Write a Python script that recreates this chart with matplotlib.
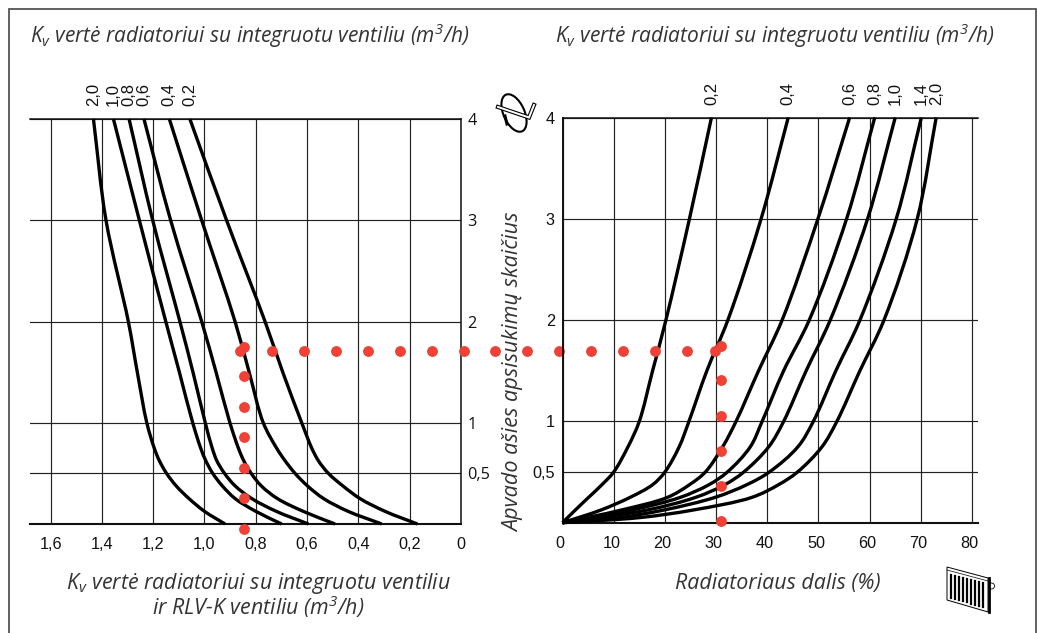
import matplotlib
matplotlib.use("Agg")
import matplotlib.pyplot as plt
from matplotlib.patches import Ellipse, Polygon, Circle, PathPatch
from matplotlib.path import Path
from matplotlib.transforms import ScaledTranslation
import math

plt.rcParams['font.family'] = ['Open Sans', 'DejaVu Sans']
plt.rcParams['mathtext.fontset'] = 'custom'
plt.rcParams['mathtext.rm'] = 'Open Sans:italic'
plt.rcParams['mathtext.it'] = 'Open Sans:italic'
plt.rcParams['mathtext.default'] = 'regular'

# ---- data ----
left_turns = [4, 3, 2, 1.5, 1, 0.75, 0.625, 0.5, 0.375, 0.25, 0.125, 0]
left_curves = {
    '2,0': [1.433, 1.384, 1.297, 1.262, 1.225, 1.196, 1.176, 1.148, 1.110, 1.060, 1.000, 0.920],
    '1,0': [1.355, 1.254, 1.151, 1.098, 1.046, 1.015, 0.995, 0.968, 0.930, 0.880, 0.800, 0.699],
    '0,8': [1.294, 1.202, 1.096, 1.045, 0.997, 0.970, 0.952, 0.922, 0.880, 0.815, 0.720, 0.595],
    '0,6': [1.236, 1.132, 1.011, 0.955, 0.901, 0.868, 0.847, 0.818, 0.778, 0.715, 0.615, 0.491],
    '0,4': [1.137, 1.011, 0.881, 0.826, 0.771, 0.719, 0.686, 0.647, 0.598, 0.535, 0.440, 0.309],
    '0,2': [1.057, 0.914, 0.764, 0.695, 0.621, 0.582, 0.556, 0.517, 0.460, 0.393, 0.296, 0.170],
}
right_turns = [4, 3, 2, 1.5, 1, 0.75, 0.5, 0.375, 0.25, 0.125, 0]
right_turns_fine = [4, 3, 2, 1.5, 1, 0.75, 0.5, 0.375, 0.25, 0.125, 0.05, 0]
right_curves = {
    '0,2': ([29.1, 24.8, 20.2, 17.6, 15.0, 12.8, 10.0, 7.7, 5.1, 2.5, 0], right_turns),
    '0,4': ([44.1, 38.8, 32.3, 28.2, 24.7, 22.8, 20.0, 17.6, 13.2, 7.5, 0], right_turns),
    '0,6': ([56.1, 49.9, 42.9, 38.3, 33.9, 31.3, 27.9, 24.8, 20.5, 11.5, 0], right_turns),
    '0,8': ([61.0, 55.5, 48.2, 43.2, 39.0, 36.7, 32.2, 28.6, 23.0, 13.5, 0], right_turns),
    '1,0': ([65.0, 59.6, 52.3, 47.6, 43.2, 40.3, 35.4, 31.7, 26.0, 16.5, 0], right_turns),
    '1,4': ([70.1, 65.2, 58.1, 53.4, 49.0, 46.0, 40.4, 36.0, 29.8, 19.8, 11.0, 0], right_turns_fine),
    '2,0': ([73.0, 69.3, 62.8, 58.1, 53.6, 50.7, 45.9, 42.2, 37.0, 25.5, 15.0, 0], right_turns_fine),
}
left_xticks = [1.6, 1.4, 1.2, 1.0, 0.8, 0.6, 0.4, 0.2, 0]
left_xlabels = ['1,6', '1,4', '1,2', '1,0', '0,8', '0,6', '0,4', '0,2', '0']
right_xticks = [0, 10, 20, 30, 40, 50, 60, 70, 80]
right_xlabels = ['0', '10', '20', '30', '40', '50', '60', '70', '80']
yticks = [0, 0.5, 1, 2, 3, 4]
ylabels = ['', '0,5', '1', '2', '3', '4']

# red guide dots
dot_row_left_kv = [0.862, 0.737, 0.612, 0.487, 0.363, 0.238, 0.113, -0.012, -0.133, -0.257, -0.382]
dot_row_left_turns = [1.709] * 11
dot_col_left_kv = [0.846] * 7
dot_col_left_turns = [1.751, 1.462, 1.158, 0.856, 0.556, 0.254, -0.046]
dot_row_right_pct = [5.6, 11.8, 18.1, 24.3, 29.8]
dot_row_right_turns = [1.693] * 5
dot_col_right_pct = [31.0] * 6
dot_col_right_turns = [1.746, 1.407, 1.058, 0.71, 0.365, 0.017]

title_text = r'K$_{v}$ vertė radiatoriui su integruotu ventiliu (m$^{3}$/h)'
bottom_left = r'K$_{v}$ vertė radiatoriui su integruotu ventiliu'
bottom_left2 = r'ir RLV-K ventiliu (m$^{3}$/h)'
bottom_right = 'Radiatoriaus dalis (%)'
ylabel_text = 'Apvado ašies apsisukimų skaičius'

# ---- layout ----
W, H = 1037, 633
fig = plt.figure(figsize=(W / 100, H / 100), dpi=100, facecolor='white')

def axes_px(x0, x1, ytop, ybot):
    return fig.add_axes([x0 / W, 1 - ybot / H, (x1 - x0) / W, (ybot - ytop) / H])

INK = '#111111'
TXT = '#333333'
tick_font = 'Liberation Sans'

def style(ax):
    for s in ax.spines.values():
        s.set_visible(False)
    ax.set_yticks(yticks, ylabels)
    ax.grid(True, color='#222222', lw=0.85)
    ax.set_axisbelow(True)
    ax.tick_params(length=0, labelsize=11.7, colors='#111111')
    for t in ax.get_xticklabels() + ax.get_yticklabels():
        t.set_fontfamily(tick_font)
    ax.patch.set_alpha(0)

def smooth_curve(ax, xs, ys, sx, sy):
    """Draw a line through the read points as a Catmull-Rom cubic path."""
    n = len(xs)
    d = [math.hypot((xs[i + 1] - xs[i]) * sx, (ys[i + 1] - ys[i]) * sy) ** 0.5 for i in range(n - 1)]
    mx, my = [0.0] * n, [0.0] * n
    for i in range(n):
        if i == 0:
            mx[i], my[i] = (xs[1] - xs[0]) / d[0], (ys[1] - ys[0]) / d[0]
        elif i == n - 1:
            mx[i], my[i] = (xs[i] - xs[i - 1]) / d[i - 1], (ys[i] - ys[i - 1]) / d[i - 1]
        else:
            a, b = d[i - 1], d[i]
            mx[i] = ((xs[i] - xs[i - 1]) / a * b + (xs[i + 1] - xs[i]) / b * a) / (a + b)
            my[i] = ((ys[i] - ys[i - 1]) / a * b + (ys[i + 1] - ys[i]) / b * a) / (a + b)
    verts, codes = [(xs[0], ys[0])], [Path.MOVETO]
    for i in range(n - 1):
        verts += [(xs[i] + mx[i] * d[i] / 3, ys[i] + my[i] * d[i] / 3),
                  (xs[i + 1] - mx[i + 1] * d[i] / 3, ys[i + 1] - my[i + 1] * d[i] / 3),
                  (xs[i + 1], ys[i + 1])]
        codes += [Path.CURVE4] * 3
    ax.add_patch(PathPatch(Path(verts, codes), fc='none', ec='black', lw=2.4,
                           capstyle='butt', joinstyle='round', clip_on=False, zorder=3))

axL = axes_px(30, 461, 119, 524)
axL.set_xlim(431 / 256.5, 0)
axL.set_ylim(0, 4)
axL.set_xticks(left_xticks, left_xlabels)
style(axL)
axL.yaxis.tick_right()
axL.tick_params(axis='y', pad=4.5, length=0)
axL.tick_params(axis='x', pad=9.5)
for s in ('right', 'top', 'bottom'):
    axL.spines[s].set_visible(True)
    axL.spines[s].set_color(INK)
    axL.spines[s].set_linewidth(1.1)
axL.spines['bottom'].set_linewidth(1.5)

axR = axes_px(562.5, 977.5, 117.5, 522.7)
axR.set_xlim(0, 415 / 5.119)
axR.set_ylim(0, 4)
axR.set_xticks(right_xticks, right_xlabels)
style(axR)
axR.tick_params(axis='y', pad=5.5)
axR.tick_params(axis='x', pad=9.5)
shift = ScaledTranslation(-2.3 / 100, 0, fig.dpi_scale_trans)
for t in axR.get_xticklabels():
    t.set_transform(t.get_transform() + shift)
for s in ('left', 'top', 'bottom'):
    axR.spines[s].set_visible(True)
    axR.spines[s].set_color(INK)
    axR.spines[s].set_linewidth(1.1)
axR.spines['bottom'].set_linewidth(1.5)
axR.spines['left'].set_linewidth(1.4)

for name, xs in left_curves.items():
    smooth_curve(axL, xs, left_turns, 256.5, 101.25)
    axL.annotate(name, (xs[0], 4), xytext=(0, 9), textcoords='offset points', rotation=90,
                 ha='center', va='bottom', fontsize=12, family=tick_font, color='#111111')
for name, (xs, ys) in right_curves.items():
    smooth_curve(axR, xs, ys, 5.119, 101.3)
    axR.annotate(name, (xs[0], 4), xytext=(0, 9), textcoords='offset points', rotation=90,
                 ha='center', va='bottom', fontsize=12, family=tick_font, color='#111111')

RED = '#EF4136'
for ax, xs, ys in ((axL, dot_row_left_kv, dot_row_left_turns),
                   (axL, dot_col_left_kv, dot_col_left_turns),
                   (axR, dot_row_right_pct, dot_row_right_turns),
                   (axR, dot_col_right_pct, dot_col_right_turns)):
    ax.plot(xs, ys, ls='none', marker='o', ms=7.8, mfc=RED, mec='none', clip_on=False, zorder=10)

# overlay in pixel coordinates for frame, texts and icons
ov = fig.add_axes([0, 0, 1, 1])
ov.set_xlim(0, W)
ov.set_ylim(H, 0)
ov.axis('off')
ov.patch.set_alpha(0)
ov.plot([9, 9, 1036, 1036], [H, 9, 9, H], color='#555555', lw=1.3, solid_joinstyle='miter')

kw = dict(style='italic', color=TXT, family='Open Sans')
ov.text(30, 43, title_text, ha='left', va='baseline', fontsize=15, **kw)
ov.text(555, 43, title_text, ha='left', va='baseline', fontsize=15, **kw)
ov.text(258, 589, bottom_left, ha='center', va='baseline', fontsize=15.4, **kw)
ov.text(258, 615, bottom_left2, ha='center', va='baseline', fontsize=15.4, **kw)
ov.text(777.5, 589, bottom_right, ha='center', va='baseline', fontsize=15.4, **kw)
ov.text(514, 372, ylabel_text, rotation=90, ha='center', va='center', fontsize=15.6, **kw)

# radiator icon
ov.add_patch(Polygon([(947, 567), (988, 578), (988, 612), (947, 600)], fc='white', ec='black', lw=0.7))
ov.plot([988.5, 988.5], [578, 612], color='black', lw=2)
ov.plot([947, 988], [570, 581], color='black', lw=0.5)
for i in range(9):
    xs = 950.5 + i * 4.0
    ov.plot([xs, xs], [575 + i * 1.0, 598 + i * 1.1], color='black', lw=1.6)
ov.add_patch(Circle((991.5, 586), 3, fc='white', ec='black', lw=0.6, zorder=1))

# hex key icon
ov.add_patch(Ellipse((514, 113), 21, 40, angle=-24, fc='none', ec='black', lw=1.5, zorder=3))
ov.plot([498, 529, 534], [107, 117.5, 105], color='black', lw=3, solid_joinstyle='miter', zorder=4)
ov.plot([498, 529, 534], [107, 117.5, 105], color='white', lw=1.4, solid_joinstyle='miter', zorder=5)
ov.plot([505, 507], [116, 124], color='black', lw=2.2, zorder=5)

fig.savefig('out.png', dpi=100)
